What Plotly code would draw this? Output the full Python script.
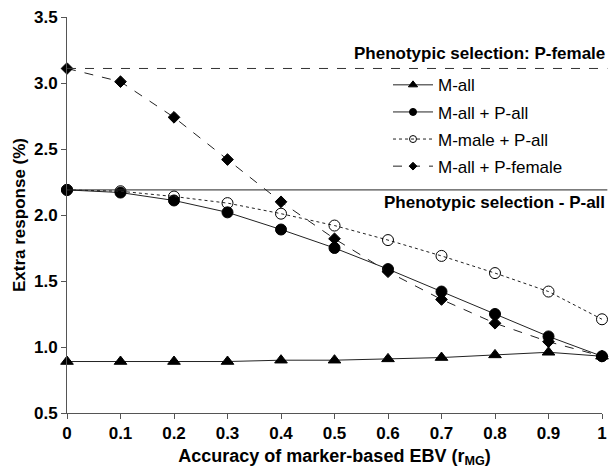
import plotly.graph_objects as go

x_vals = [0, 0.1, 0.2, 0.3, 0.4, 0.5, 0.6, 0.7, 0.8, 0.9, 1.0]
x_ticktext = ["0", "0.1", "0.2", "0.3", "0.4", "0.5", "0.6", "0.7", "0.8", "0.9", "1"]
y_tickvals = [0.5, 1.0, 1.5, 2.0, 2.5, 3.0, 3.5]
y_ticktext = ["0.5", "1.0", "1.5", "2.0", "2.5", "3.0", "3.5"]

m_all = [0.89, 0.89, 0.89, 0.89, 0.90, 0.90, 0.91, 0.92, 0.94, 0.96, 0.93]
m_all_p_all = [2.19, 2.17, 2.11, 2.02, 1.89, 1.75, 1.59, 1.42, 1.25, 1.08, 0.93]
m_male_p_all = [2.19, 2.18, 2.14, 2.09, 2.01, 1.92, 1.81, 1.69, 1.56, 1.42, 1.21]
m_all_p_female = [3.11, 3.01, 2.74, 2.42, 2.10, 1.82, 1.57, 1.36, 1.18, 1.04, 0.93]

pheno_p_female = 3.11
pheno_p_all = 2.19

FONT = "Liberation Sans, Arial, sans-serif"

fig = go.Figure()

series = [
    ("M-all", m_all, "triangle-up", 11, 8, "solid"),
    ("M-all + P-all", m_all_p_all, "circle", 11, 7, "solid"),
    ("M-male + P-all", m_male_p_all, "circle-open", 11, 7, "dot"),
    ("M-all + P-female", m_all_p_female, "diamond", 9, 6, "dash"),
]
for i, (name, ys, sym, size, lsize, dash) in enumerate(series):
    fig.add_trace(go.Scatter(
        x=x_vals, y=ys, name=name, mode="lines+markers",
        line=dict(color="#222222", width=1, dash=dash),
        marker=dict(symbol=sym, size=size, color="black",
                    line=dict(color="black", width=1)),
        cliponaxis=False, showlegend=False,
    ))
    # legend-only entry with smaller marker, as in the reference legend
    fig.add_trace(go.Scatter(
        x=[None], y=[None], name=name, mode="lines+markers",
        line=dict(color="#222222", width=1, dash=dash),
        marker=dict(symbol=sym, size=lsize, color="black",
                    line=dict(color="black", width=1)),
        legendgroup="g%d" % i, showlegend=True,
    ))

fig.add_shape(type="line", xref="paper", yref="y", x0=0, x1=1.01,
              y0=pheno_p_female, y1=pheno_p_female,
              line=dict(color="#333333", width=1, dash="dash"))
fig.add_shape(type="line", xref="paper", yref="y", x0=0, x1=1.01,
              y0=pheno_p_all, y1=pheno_p_all,
              line=dict(color="#222222", width=1))

fig.add_annotation(text="Phenotypic selection: P-female", xref="paper", yref="y",
                   x=1.0, y=pheno_p_female, xanchor="right", yanchor="bottom",
                   yshift=3, xshift=5,
                   showarrow=False, font=dict(family=FONT, size=17, color="black", weight="bold"))
fig.add_annotation(text="Phenotypic selection - P-all", xref="paper", yref="y",
                   x=1.0, y=pheno_p_all, xanchor="right", yanchor="top",
                   yshift=-1, xshift=5,
                   showarrow=False, font=dict(family=FONT, size=17, color="black", weight="bold"))

fig.update_layout(
    width=612, height=471,
    margin=dict(l=67, r=5, t=17, b=58),
    paper_bgcolor="white", plot_bgcolor="white",
    font=dict(family=FONT, color="black"),
    showlegend=True,
    legend=dict(x=0.6, y=0.873, xanchor="left", yanchor="top",
                font=dict(family=FONT, size=17, color="black"),
                bgcolor="rgba(0,0,0,0)", itemwidth=40, tracegroupgap=2,
                traceorder="grouped"),
    xaxis=dict(range=[0, 1], tickvals=x_vals, ticktext=x_ticktext,
               showline=True, linecolor="#555555", linewidth=1,
               ticks="outside", ticklen=5, tickcolor="#555555",
               showgrid=False, zeroline=False,
               tickfont=dict(family=FONT, size=17, color="black", weight="bold"),
               title=dict(text="Accuracy of marker-based EBV (r<sub>MG</sub>)",
                          font=dict(family=FONT, size=18, color="black", weight="bold"),
                          standoff=6)),
    yaxis=dict(range=[0.5, 3.5], tickvals=y_tickvals, ticktext=y_ticktext,
               showline=True, linecolor="#555555", linewidth=1,
               ticks="outside", ticklen=5, tickcolor="#555555",
               showgrid=False, zeroline=False,
               tickfont=dict(family=FONT, size=17, color="black", weight="bold"),
               title=dict(text="Extra response (%)",
                          font=dict(family=FONT, size=17, color="black", weight="bold"),
                          standoff=4)),
)

fig.write_html("out.html")
